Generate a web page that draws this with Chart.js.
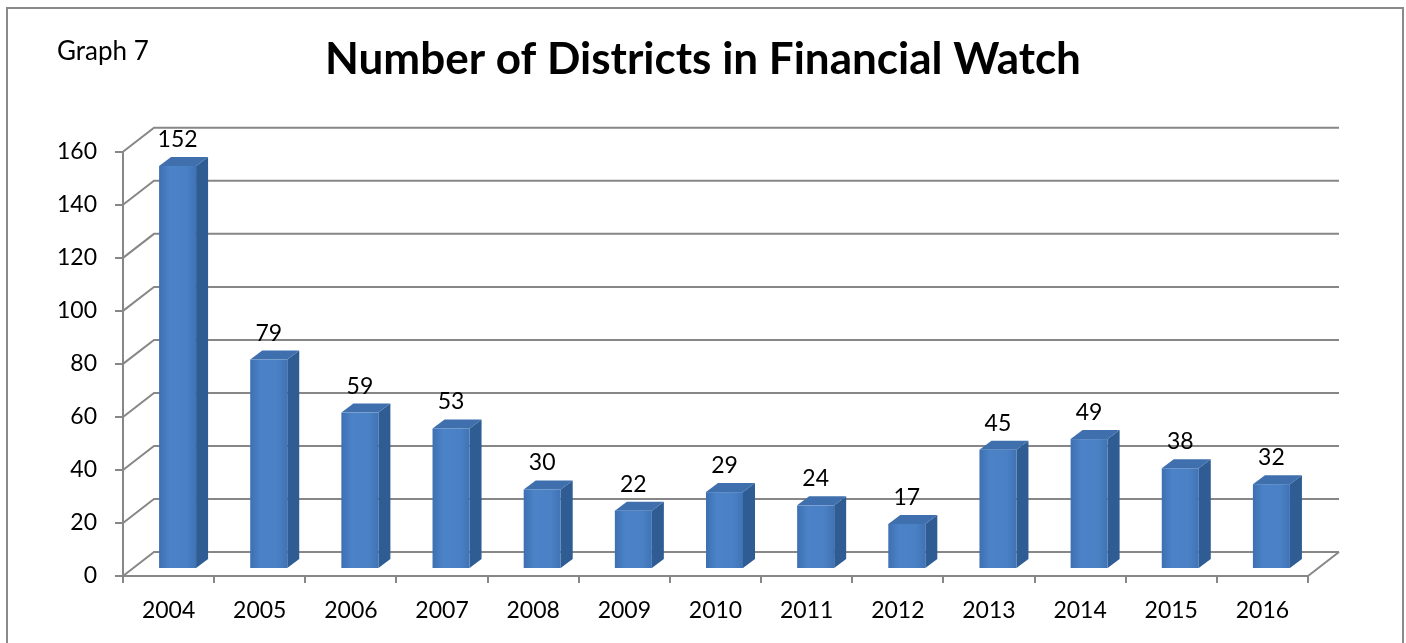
<!DOCTYPE html>
<html>
<head>
<meta charset="utf-8">
<script src="https://cdn.jsdelivr.net/npm/chart.js@4.4.1/dist/chart.umd.min.js"></script>
<style>
  html, body { margin: 0; padding: 0; background: #fff; overflow: hidden; }
  canvas { display: block; }
</style>
</head>
<body>
<canvas id="chart" width="1406" height="643"></canvas>
<script>
// chart data
const years = ['2004', '2005', '2006', '2007', '2008', '2009', '2010', '2011', '2012', '2013', '2014', '2015', '2016'];
const districts = [152, 79, 59, 53, 30, 22, 29, 24, 17, 45, 49, 38, 32];
const valueTicks = [0, 20, 40, 60, 80, 100, 120, 140, 160];
const chartTitle = 'Number of Districts in Financial Watch';
const graphLabel = 'Graph 7';

// 3d look
const wallDx = 31, wallDy = 24;   // back wall offset
const barDx = 9, barDy = 7;       // bar front face offset
const sideDx = 12, sideDy = 9;    // bar depth
const gridColor = '#878787';
const fontFamily = 'Lato, "Open Sans", sans-serif';

const threeD = {
    id: 'threeD',
    beforeDatasetsDraw(chart) {
        const { ctx, chartArea: a, scales: { y } } = chart;
        ctx.save();
        ctx.strokeStyle = gridColor;
        ctx.lineWidth = 2;
        valueTicks.forEach(v => {
            const py = y.getPixelForValue(v);
            ctx.beginPath();
            ctx.moveTo(a.left, py);
            ctx.lineTo(a.left + wallDx, py - wallDy);
            ctx.lineTo(a.right + wallDx, py - wallDy);
            ctx.stroke();
        });
        // right edge of the floor
        ctx.beginPath();
        ctx.moveTo(a.right, a.bottom);
        ctx.lineTo(a.right + wallDx, a.bottom - wallDy);
        ctx.stroke();
        ctx.restore();
    },
    afterDatasetsDraw(chart) {
        const { ctx } = chart;
        const meta = chart.getDatasetMeta(0);
        ctx.save();
        meta.data.forEach((bar, i) => {
            const { x, y, base, width } = bar.getProps(['x', 'y', 'base', 'width'], true);
            const x0 = x - width / 2 + barDx, x1 = x + width / 2 + barDx;
            const yt = y - barDy, yb = base - barDy;

            // side
            ctx.fillStyle = '#2e5c93';
            ctx.beginPath();
            ctx.moveTo(x1, yt);
            ctx.lineTo(x1 + sideDx, yt - sideDy);
            ctx.lineTo(x1 + sideDx, yb - sideDy);
            ctx.lineTo(x1, yb);
            ctx.closePath();
            ctx.fill();

            // top
            ctx.fillStyle = '#3f70ad';
            ctx.beginPath();
            ctx.moveTo(x0, yt);
            ctx.lineTo(x1, yt);
            ctx.lineTo(x1 + sideDx, yt - sideDy);
            ctx.lineTo(x0 + sideDx, yt - sideDy);
            ctx.closePath();
            ctx.fill();

            // front
            const g = ctx.createLinearGradient(x0, 0, x1, 0);
            g.addColorStop(0, '#3d70b2');
            g.addColorStop(0.3, '#4c83c8');
            g.addColorStop(0.75, '#4a80c4');
            g.addColorStop(1, '#3f73b5');
            ctx.fillStyle = g;
            ctx.fillRect(x0, yt, x1 - x0, yb - yt);

            // value label
            ctx.fillStyle = '#000';
            ctx.font = '23px ' + fontFamily;
            ctx.textAlign = 'center';
            ctx.textBaseline = 'alphabetic';
            ctx.fillText(String(districts[i]), (x0 + x1) / 2, yt - 19);
        });
        ctx.restore();
    },
    afterDraw(chart) {
        const { ctx } = chart;
        ctx.save();
        ctx.strokeStyle = '#8a8a8a';
        ctx.lineWidth = 2;
        ctx.strokeRect(7, 8, 1396, 700);
        ctx.fillStyle = '#000';
        ctx.font = '26px ' + fontFamily;
        ctx.textAlign = 'left';
        ctx.textBaseline = 'alphabetic';
        ctx.fillText(graphLabel, 57, 60);
        ctx.restore();
    }
};

new Chart(document.getElementById('chart').getContext('2d'), {
    type: 'bar',
    data: {
        labels: years,
        datasets: [{
            label: 'Districts',
            data: districts,
            backgroundColor: 'rgba(0,0,0,0)',
            borderWidth: 0,
            categoryPercentage: 1,
            barPercentage: 0.406
        }]
    },
    options: {
        responsive: false,
        animation: false,
        layout: { padding: 0 },
        plugins: {
            legend: { display: false },
            tooltip: { enabled: false },
            title: {
                display: true,
                text: chartTitle,
                color: '#000',
                font: { family: fontFamily, size: 44, weight: 'bold' },
                padding: { top: 33, bottom: 66 }
            }
        },
        scales: {
            x: {
                afterFit: s => { s.height = 67; },
                grid: { offset: true, drawOnChartArea: false, tickLength: 7, color: gridColor, lineWidth: 2 },
                border: { display: true, color: gridColor, width: 2 },
                ticks: { color: '#000', font: { family: fontFamily, size: 23 }, padding: 14, maxRotation: 0 }
            },
            y: {
                min: valueTicks[0],
                max: valueTicks[valueTicks.length - 1],
                afterBuildTicks: s => { s.ticks = valueTicks.map(v => ({ value: v })); },
                afterFit: s => { s.width = 123; },
                grid: { drawOnChartArea: false, tickLength: 8, color: gridColor, lineWidth: 2 },
                border: { display: true, color: gridColor, width: 2 },
                ticks: { color: '#000', font: { family: fontFamily, size: 23 }, padding: 18 }
            },
            // empty right margin so the plot ends where the reference does
            yRight: {
                position: 'right',
                afterFit: s => { s.width = 98; },
                grid: { display: false },
                border: { display: false },
                ticks: { display: false }
            }
        }
    },
    plugins: [threeD]
});
</script>
</body>
</html>
